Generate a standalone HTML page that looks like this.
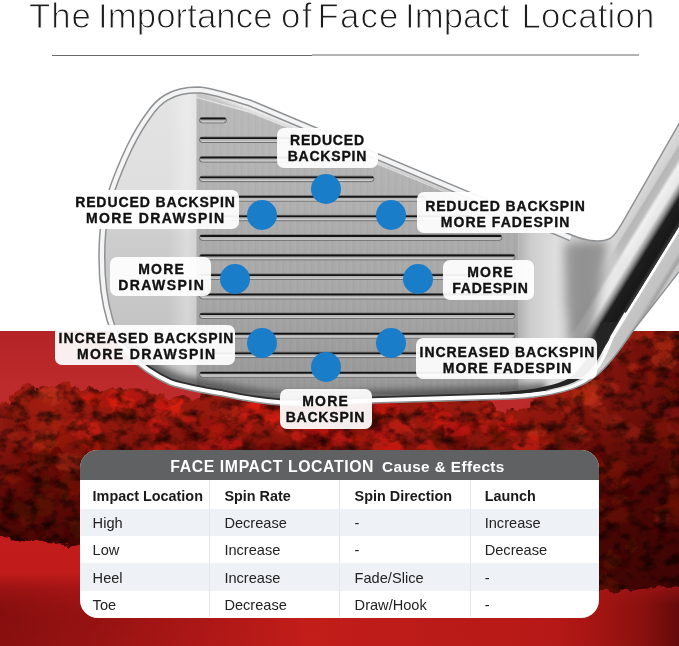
<!DOCTYPE html>
<html lang="en">
<head>
<meta charset="utf-8">
<title>The Importance of Face Impact Location</title>
<style>
html,body{margin:0;padding:0;background:#fff;}
body{width:679px;height:646px;position:relative;overflow:hidden;font-family:"Liberation Sans",sans-serif;}
#art{position:absolute;left:0;top:0;width:679px;height:646px;display:block;}
h1{position:absolute;left:0;top:-5px;width:679px;height:42px;margin:0;font-weight:400;font-size:34.8px;line-height:42px;color:#1c1c1c;white-space:nowrap;-webkit-text-stroke:1px #fff;will-change:transform;}
h1 span{position:absolute;top:0;}
.rule{position:absolute;left:52px;top:55px;width:260px;height:1px;background:#6a6a6a;}
.rule2{position:absolute;left:312px;top:54px;width:326.5px;height:2px;background:#b2b2b2;}
.lab{position:absolute;box-sizing:border-box;background:rgba(255,255,255,0.93);border-radius:7px;}
.lt{position:absolute;width:240px;color:#111;font-weight:700;font-size:14px;line-height:16.3px;letter-spacing:0.8px;text-indent:0.8px;text-align:center;white-space:nowrap;will-change:transform;-webkit-text-stroke:0.35px #111;}
.lt span{display:block;}
.dot{position:absolute;width:30px;height:30px;border-radius:50%;background:#1a7dc9;}
#tbl{position:absolute;left:80px;top:450px;width:519px;height:167.6px;will-change:transform;border-radius:18px;overflow:hidden;background:#fff;}
#tbl .hd{position:absolute;left:0;top:0;width:100%;height:30px;background:#606163;color:#fff;font-weight:700;}
#tbl .hd b{position:absolute;top:8px;left:90.3px;font-size:15.8px;line-height:18px;letter-spacing:0.61px;white-space:nowrap;}
#tbl .hd i{position:absolute;top:8.2px;left:302px;font-style:normal;font-size:15.3px;line-height:18px;letter-spacing:0.42px;white-space:nowrap;}
.row{position:absolute;left:0;width:100%;height:27.4px;}
.row.alt{background:#eef2f7;}
.row span{position:absolute;top:1.5px;line-height:27.4px;font-size:14.6px;color:#222;white-space:nowrap;}
.row.th span{font-weight:700;color:#1a1a1a;font-size:14.4px;top:3px;}
.c1{left:12.6px;}.c2{left:144.4px;}.c3{left:274.6px;}.c4{left:404.7px;}
.vl{position:absolute;top:30px;width:1px;height:137px;background:#e3e6ea;}
</style>
</head>
<body>
<svg id="art" width="679" height="646" viewBox="0 0 679 646">
  <defs>
    <linearGradient id="sky" gradientUnits="userSpaceOnUse" x1="0" y1="331" x2="0" y2="560">
      <stop offset="0" stop-color="#b42326"/>
      <stop offset="0.25" stop-color="#bd2b2c"/>
      <stop offset="1" stop-color="#b82020"/>
    </linearGradient>
    <linearGradient id="toev" gradientUnits="userSpaceOnUse" x1="0" y1="90" x2="0" y2="400">
      <stop offset="0" stop-color="#e3e3e4"/>
      <stop offset="0.33" stop-color="#dfdfe0"/>
      <stop offset="0.47" stop-color="#cdcdce"/>
      <stop offset="0.75" stop-color="#c4c4c5"/>
      <stop offset="1" stop-color="#b4b4b4"/>
    </linearGradient>
    <linearGradient id="toeh" gradientUnits="userSpaceOnUse" x1="99" y1="0" x2="197" y2="0">
      <stop offset="0" stop-color="#fff" stop-opacity="0"/>
      <stop offset="0.7" stop-color="#fff" stop-opacity="0"/>
      <stop offset="0.9" stop-color="#fff" stop-opacity="0.3"/>
      <stop offset="1" stop-color="#fff" stop-opacity="0.1"/>
    </linearGradient>
    <linearGradient id="facev" gradientUnits="userSpaceOnUse" x1="0" y1="96" x2="0" y2="396">
      <stop offset="0" stop-color="#fff" stop-opacity="0.16"/>
      <stop offset="0.35" stop-color="#fff" stop-opacity="0.04"/>
      <stop offset="0.6" stop-color="#000" stop-opacity="0.02"/>
      <stop offset="1" stop-color="#000" stop-opacity="0.13"/>
    </linearGradient>
    <linearGradient id="solefade" x1="0" y1="0" x2="0" y2="1">
      <stop offset="0" stop-color="#6a6a6a" stop-opacity="0"/>
      <stop offset="0.45" stop-color="#666" stop-opacity="0.3"/>
      <stop offset="0.8" stop-color="#555" stop-opacity="0.7"/>
      <stop offset="1" stop-color="#444" stop-opacity="0.85"/>
    </linearGradient>
    <pattern id="brush" width="7" height="10" patternUnits="userSpaceOnUse">
      <rect x="0" y="0" width="2" height="10" fill="#fff" opacity="0.10"/>
      <rect x="3" y="0" width="1" height="10" fill="#000" opacity="0.05"/>
      <rect x="5" y="0" width="1.5" height="10" fill="#fff" opacity="0.06"/>
    </pattern>
    <linearGradient id="gmg" gradientUnits="userSpaceOnUse" x1="0" y1="575" x2="0" y2="605">
      <stop offset="0" stop-color="#000"/><stop offset="1" stop-color="#fff"/>
    </linearGradient>
    <mask id="gmask" maskUnits="userSpaceOnUse" x="0" y="560" width="679" height="90"><rect x="0" y="560" width="679" height="90" fill="url(#gmg)"/></mask>
    <filter id="sblur" x="-5%" y="-20%" width="110%" height="140%"><feGaussianBlur stdDeviation="3"/></filter>
    <filter id="mblur2" x="-50%" y="-20%" width="200%" height="140%"><feGaussianBlur stdDeviation="5"/></filter>
    <filter id="mblur" x="-20%" y="-20%" width="140%" height="140%"><feGaussianBlur stdDeviation="7"/></filter>
    <mask id="hoselmask" maskUnits="userSpaceOnUse" x="480" y="40" width="330" height="420">
      <polygon points="693,57 791,118 633,373 571,335 618.5,258 593,219" fill="#fff" filter="url(#mblur)"/>
    </mask>
    <linearGradient id="heel" gradientUnits="userSpaceOnUse" x1="519" y1="0" x2="640" y2="0">
      <stop offset="0" stop-color="#b4b4b4"/>
      <stop offset="0.1" stop-color="#cdcdcd"/>
      <stop offset="0.3" stop-color="#dedede"/>
      <stop offset="0.55" stop-color="#c6c6c6"/>
      <stop offset="0.8" stop-color="#d8d8d8"/>
      <stop offset="1" stop-color="#b0b0b0"/>
    </linearGradient>
    <linearGradient id="hosel" gradientUnits="userSpaceOnUse" x1="617" y1="230" x2="677.4" y2="267.3">
      <stop offset="0" stop-color="#d8d8d8"/>
      <stop offset="0.10" stop-color="#d0d0d0"/>
      <stop offset="0.13" stop-color="#b6b6b6"/>
      <stop offset="0.21" stop-color="#bcbcbc"/>
      <stop offset="0.26" stop-color="#f0f0f0"/>
      <stop offset="0.38" stop-color="#e6e6e6"/>
      <stop offset="0.45" stop-color="#8c8c8c"/>
      <stop offset="0.51" stop-color="#1e1e1e"/>
      <stop offset="0.66" stop-color="#181818"/>
      <stop offset="0.715" stop-color="#3a3a3a"/>
      <stop offset="0.725" stop-color="#ffffff"/>
      <stop offset="0.75" stop-color="#ffffff"/>
      <stop offset="0.765" stop-color="#c6c6c6"/>
      <stop offset="0.9" stop-color="#c2c2c2"/>
      <stop offset="0.96" stop-color="#a2a2a2"/>
      <stop offset="1" stop-color="#c8c8c8"/>
    </linearGradient>
    <linearGradient id="topband" gradientUnits="userSpaceOnUse" x1="350" y1="142" x2="346" y2="152">
      <stop offset="0" stop-color="#f6f6f6"/>
      <stop offset="0.55" stop-color="#ececec"/>
      <stop offset="1" stop-color="#bdbdbd"/>
    </linearGradient>
    <linearGradient id="ground" x1="0" y1="0" x2="0" y2="1">
      <stop offset="0" stop-color="#c41c1c"/>
      <stop offset="0.42" stop-color="#c11b1b"/>
      <stop offset="0.56" stop-color="#a41515"/>
      <stop offset="0.8" stop-color="#961212"/>
      <stop offset="1" stop-color="#9a1414"/>
    </linearGradient>
    <linearGradient id="groundx" x1="0" y1="0" x2="1" y2="0">
      <stop offset="0" stop-color="#7a0c0c" stop-opacity="0.55"/>
      <stop offset="0.1" stop-color="#7a0c0c" stop-opacity="0.15"/>
      <stop offset="0.2" stop-color="#c01c1a" stop-opacity="0.2"/>
      <stop offset="0.45" stop-color="#c41e1a" stop-opacity="0.95"/>
      <stop offset="0.82" stop-color="#b81a18" stop-opacity="0.9"/>
      <stop offset="0.89" stop-color="#a21512" stop-opacity="0.9"/>
      <stop offset="0.95" stop-color="#86100e" stop-opacity="0.9"/>
      <stop offset="1" stop-color="#600a0a" stop-opacity="0.95"/>
    </linearGradient>
    <linearGradient id="mass" gradientUnits="userSpaceOnUse" x1="0" y1="380" x2="0" y2="590">
      <stop offset="0" stop-color="#a51d11"/>
      <stop offset="0.25" stop-color="#8d160c"/>
      <stop offset="0.5" stop-color="#630b07"/>
      <stop offset="0.75" stop-color="#4c0704"/>
      <stop offset="1" stop-color="#440603"/>
    </linearGradient>
    <linearGradient id="massx" gradientUnits="userSpaceOnUse" x1="520" y1="0" x2="679" y2="0">
      <stop offset="0" stop-color="#3a0303" stop-opacity="0"/>
      <stop offset="0.5" stop-color="#3a0303" stop-opacity="0.3"/>
      <stop offset="1" stop-color="#3a0303" stop-opacity="0.6"/>
    </linearGradient>
    <filter id="soft" x="-5%" y="-5%" width="110%" height="110%"><feGaussianBlur stdDeviation="1.6"/></filter>
    <filter id="rough" x="0" y="0" width="100%" height="100%" color-interpolation-filters="sRGB">
      <feTurbulence type="fractalNoise" baseFrequency="0.09" numOctaves="3" seed="4" result="n"/>
      <feDisplacementMap in="SourceGraphic" in2="n" scale="12" xChannelSelector="R" yChannelSelector="G" result="d"/>
      <feTurbulence type="fractalNoise" baseFrequency="0.07 0.09" numOctaves="4" seed="11" result="n2"/>
      <feColorMatrix in="n2" type="matrix" values="1.7 0 0 0 0.05  1.7 0 0 0 0.05  1.7 0 0 0 0.05  0 0 0 0 1" result="tex"/>
      <feComposite in="tex" in2="d" operator="arithmetic" k1="1" k2="0" k3="0" k4="0"/>
    </filter>
    <clipPath id="massclip"><polygon points="-25,408 0,406 15,398 30,391 50,386 70,387 85,392 95,398 110,394 130,392 150,396 165,402 180,400 195,398 205,394 225,392 262,394 300,394 372,392 440,390 478,392 490,408 505,420 520,410 540,395 560,383 580,375 600,360 620,340 632,320 705,320 705,585 679,586 599,592 300,560 80,546 0,536 -25,535"/><circle cx="-10" cy="410" r="9"/><circle cx="4" cy="408" r="7"/><circle cx="15" cy="402" r="7"/><circle cx="24" cy="397" r="10"/><circle cx="34" cy="397" r="10"/><circle cx="44" cy="393" r="8"/><circle cx="60" cy="392" r="10"/><circle cx="75" cy="394" r="7"/><circle cx="86" cy="396" r="8"/><circle cx="98" cy="403" r="12"/><circle cx="111" cy="399" r="11"/><circle cx="123" cy="395" r="7"/><circle cx="134" cy="399" r="11"/><circle cx="145" cy="401" r="11"/><circle cx="156" cy="406" r="12"/><circle cx="167" cy="408" r="10"/><circle cx="182" cy="405" r="11"/><circle cx="488" cy="408" r="8"/><circle cx="498" cy="419" r="8"/><circle cx="512" cy="418" r="9"/></clipPath>
    <clipPath id="redclip"><rect x="0" y="331" width="679" height="315"/></clipPath>
    <clipPath id="clubclip"><path d="M198,87 C215,88 232,95 250,100 L569,234 C580,239 598,244 609,239 C615,236 617,231 621,225 L700,87 L700,245 L632,332 C620,350 608,366 596,376 C580,390 550,397 510,399 L372,403 C340,405 310,406 280,405 C258,403 240,400 222,396 C203,393 186,390 170,385 C152,377 138,367 127,355 C116,343 110,332 107,320 C101,300 99,280 99,257 C99,240 100,228 102,217 C104,205 106,198 109,190 C113,178 119,163 127,146 C134,132 140,122 146,114 C152,105 158,99 165,95 C175,89 186,87 198,87 Z"/></clipPath>
  </defs>

  <!-- red landscape -->
  <rect x="0" y="331" width="679" height="315" fill="url(#sky)"/>
  <!-- ground -->
  <rect x="0" y="520" width="679" height="126" fill="url(#ground)"/>
  <rect x="0" y="570" width="679" height="76" fill="url(#groundx)" mask="url(#gmask)"/>
  <g id="trees" filter="url(#rough)" clip-path="url(#redclip)">
    <g fill="url(#mass)"><polygon points="-25,408 0,406 15,398 30,391 50,386 70,387 85,392 95,398 110,394 130,392 150,396 165,402 180,400 195,398 205,394 225,392 262,394 300,394 372,392 440,390 478,392 490,408 505,420 520,410 540,395 560,383 580,375 600,360 620,340 632,320 705,320 705,585 679,586 599,592 300,560 80,546 0,536 -25,535"/><circle cx="-10" cy="410" r="9"/><circle cx="4" cy="408" r="7"/><circle cx="15" cy="402" r="7"/><circle cx="24" cy="397" r="10"/><circle cx="34" cy="397" r="10"/><circle cx="44" cy="393" r="8"/><circle cx="60" cy="392" r="10"/><circle cx="75" cy="394" r="7"/><circle cx="86" cy="396" r="8"/><circle cx="98" cy="403" r="12"/><circle cx="111" cy="399" r="11"/><circle cx="123" cy="395" r="7"/><circle cx="134" cy="399" r="11"/><circle cx="145" cy="401" r="11"/><circle cx="156" cy="406" r="12"/><circle cx="167" cy="408" r="10"/><circle cx="182" cy="405" r="11"/><circle cx="488" cy="408" r="8"/><circle cx="498" cy="419" r="8"/><circle cx="512" cy="418" r="9"/></g>
    <polygon points="-25,408 0,406 15,398 30,391 50,386 70,387 85,392 95,398 110,394 130,392 150,396 165,402 180,400 195,398 205,394 225,392 262,394 300,394 372,392 440,390 478,392 490,408 505,420 520,410 540,395 560,383 580,375 600,360 620,340 632,320 705,320 705,585 679,586 599,592 300,560 80,546 0,536 -25,535" fill="url(#massx)"/>
    <g clip-path="url(#massclip)"><g filter="url(#soft)">
    <ellipse cx="661" cy="529" rx="8" ry="10" fill="#4c0a06" fill-opacity="0.56"/>
    <ellipse cx="603" cy="584" rx="9" ry="11" fill="#620e08" fill-opacity="0.53"/>
    <ellipse cx="269" cy="454" rx="11" ry="14" fill="#620e08" fill-opacity="0.42"/>
    <ellipse cx="226" cy="423" rx="4" ry="5" fill="#560c07" fill-opacity="0.59"/>
    <ellipse cx="658" cy="514" rx="4" ry="6" fill="#560c07" fill-opacity="0.63"/>
    <ellipse cx="90" cy="460" rx="6" ry="8" fill="#400805" fill-opacity="0.56"/>
    <ellipse cx="67" cy="487" rx="11" ry="14" fill="#620e08" fill-opacity="0.57"/>
    <ellipse cx="46" cy="428" rx="6" ry="8" fill="#400805" fill-opacity="0.57"/>
    <ellipse cx="633" cy="544" rx="6" ry="8" fill="#4c0a06" fill-opacity="0.66"/>
    <ellipse cx="219" cy="457" rx="10" ry="13" fill="#560c07" fill-opacity="0.71"/>
    <ellipse cx="237" cy="417" rx="4" ry="5" fill="#400805" fill-opacity="0.56"/>
    <ellipse cx="676" cy="376" rx="5" ry="6" fill="#620e08" fill-opacity="0.44"/>
    <ellipse cx="623" cy="562" rx="7" ry="10" fill="#400805" fill-opacity="0.71"/>
    <ellipse cx="45" cy="506" rx="10" ry="13" fill="#560c07" fill-opacity="0.57"/>
    <ellipse cx="674" cy="465" rx="7" ry="9" fill="#4c0a06" fill-opacity="0.68"/>
    <ellipse cx="106" cy="440" rx="5" ry="7" fill="#620e08" fill-opacity="0.71"/>
    <ellipse cx="89" cy="529" rx="11" ry="14" fill="#400805" fill-opacity="0.42"/>
    <ellipse cx="374" cy="415" rx="10" ry="12" fill="#4c0a06" fill-opacity="0.59"/>
    <ellipse cx="647" cy="475" rx="10" ry="13" fill="#560c07" fill-opacity="0.36"/>
    <ellipse cx="28" cy="514" rx="10" ry="13" fill="#620e08" fill-opacity="0.72"/>
    <ellipse cx="608" cy="419" rx="5" ry="7" fill="#4c0a06" fill-opacity="0.74"/>
    <ellipse cx="535" cy="457" rx="5" ry="6" fill="#4c0a06" fill-opacity="0.60"/>
    <ellipse cx="60" cy="495" rx="6" ry="7" fill="#400805" fill-opacity="0.37"/>
    <ellipse cx="54" cy="481" rx="4" ry="5" fill="#4c0a06" fill-opacity="0.55"/>
    <ellipse cx="653" cy="432" rx="8" ry="10" fill="#560c07" fill-opacity="0.73"/>
    <ellipse cx="82" cy="436" rx="7" ry="9" fill="#4c0a06" fill-opacity="0.65"/>
    <ellipse cx="289" cy="458" rx="6" ry="8" fill="#4c0a06" fill-opacity="0.75"/>
    <ellipse cx="95" cy="518" rx="9" ry="11" fill="#560c07" fill-opacity="0.46"/>
    <ellipse cx="82" cy="487" rx="9" ry="12" fill="#4c0a06" fill-opacity="0.53"/>
    <ellipse cx="575" cy="445" rx="7" ry="9" fill="#620e08" fill-opacity="0.50"/>
    <ellipse cx="497" cy="435" rx="8" ry="10" fill="#620e08" fill-opacity="0.67"/>
    <ellipse cx="65" cy="536" rx="6" ry="7" fill="#4c0a06" fill-opacity="0.39"/>
    <ellipse cx="552" cy="457" rx="10" ry="13" fill="#400805" fill-opacity="0.77"/>
    <ellipse cx="44" cy="527" rx="4" ry="6" fill="#4c0a06" fill-opacity="0.55"/>
    <ellipse cx="642" cy="434" rx="5" ry="6" fill="#560c07" fill-opacity="0.77"/>
    <ellipse cx="672" cy="432" rx="5" ry="7" fill="#400805" fill-opacity="0.63"/>
    <ellipse cx="362" cy="458" rx="7" ry="9" fill="#560c07" fill-opacity="0.47"/>
    <ellipse cx="11" cy="420" rx="8" ry="10" fill="#560c07" fill-opacity="0.58"/>
    <ellipse cx="615" cy="586" rx="6" ry="8" fill="#560c07" fill-opacity="0.79"/>
    <ellipse cx="24" cy="438" rx="4" ry="6" fill="#400805" fill-opacity="0.54"/>
    <ellipse cx="24" cy="506" rx="7" ry="9" fill="#400805" fill-opacity="0.62"/>
    <ellipse cx="476" cy="424" rx="5" ry="7" fill="#400805" fill-opacity="0.55"/>
    <ellipse cx="675" cy="499" rx="6" ry="7" fill="#400805" fill-opacity="0.45"/>
    <ellipse cx="44" cy="458" rx="9" ry="11" fill="#560c07" fill-opacity="0.58"/>
    <ellipse cx="-11" cy="465" rx="5" ry="6" fill="#620e08" fill-opacity="0.61"/>
    <ellipse cx="431" cy="433" rx="11" ry="14" fill="#560c07" fill-opacity="0.65"/>
    <ellipse cx="683" cy="399" rx="9" ry="12" fill="#560c07" fill-opacity="0.37"/>
    <ellipse cx="561" cy="443" rx="8" ry="10" fill="#4c0a06" fill-opacity="0.72"/>
    <ellipse cx="148" cy="420" rx="5" ry="6" fill="#400805" fill-opacity="0.78"/>
    <ellipse cx="21" cy="415" rx="8" ry="10" fill="#560c07" fill-opacity="0.57"/>
    <ellipse cx="-13" cy="518" rx="9" ry="12" fill="#4c0a06" fill-opacity="0.65"/>
    <ellipse cx="32" cy="514" rx="6" ry="7" fill="#4c0a06" fill-opacity="0.73"/>
    <ellipse cx="39" cy="532" rx="6" ry="8" fill="#4c0a06" fill-opacity="0.63"/>
    <ellipse cx="441" cy="431" rx="5" ry="7" fill="#400805" fill-opacity="0.64"/>
    <ellipse cx="80" cy="489" rx="7" ry="10" fill="#4c0a06" fill-opacity="0.66"/>
    <ellipse cx="316" cy="441" rx="10" ry="13" fill="#560c07" fill-opacity="0.49"/>
    <ellipse cx="46" cy="484" rx="6" ry="8" fill="#4c0a06" fill-opacity="0.72"/>
    <ellipse cx="671" cy="477" rx="6" ry="8" fill="#560c07" fill-opacity="0.76"/>
    <ellipse cx="645" cy="374" rx="5" ry="6" fill="#400805" fill-opacity="0.78"/>
    <ellipse cx="79" cy="527" rx="8" ry="10" fill="#4c0a06" fill-opacity="0.67"/>
    <ellipse cx="330" cy="417" rx="4" ry="5" fill="#620e08" fill-opacity="0.66"/>
    <ellipse cx="71" cy="466" rx="6" ry="8" fill="#400805" fill-opacity="0.73"/>
    <ellipse cx="70" cy="537" rx="9" ry="12" fill="#400805" fill-opacity="0.46"/>
    <ellipse cx="31" cy="474" rx="10" ry="13" fill="#4c0a06" fill-opacity="0.51"/>
    <ellipse cx="19" cy="434" rx="10" ry="13" fill="#400805" fill-opacity="0.64"/>
    <ellipse cx="91" cy="544" rx="7" ry="9" fill="#400805" fill-opacity="0.44"/>
    <ellipse cx="612" cy="560" rx="8" ry="11" fill="#560c07" fill-opacity="0.67"/>
    <ellipse cx="20" cy="513" rx="7" ry="9" fill="#560c07" fill-opacity="0.64"/>
    <ellipse cx="188" cy="428" rx="10" ry="14" fill="#560c07" fill-opacity="0.43"/>
    <ellipse cx="459" cy="442" rx="9" ry="11" fill="#4c0a06" fill-opacity="0.44"/>
    <ellipse cx="627" cy="493" rx="6" ry="7" fill="#400805" fill-opacity="0.80"/>
    <ellipse cx="304" cy="445" rx="5" ry="7" fill="#4c0a06" fill-opacity="0.43"/>
    <ellipse cx="128" cy="414" rx="10" ry="13" fill="#620e08" fill-opacity="0.54"/>
    <ellipse cx="225" cy="426" rx="6" ry="8" fill="#400805" fill-opacity="0.41"/>
    <ellipse cx="597" cy="449" rx="6" ry="8" fill="#560c07" fill-opacity="0.52"/>
    <ellipse cx="671" cy="392" rx="7" ry="9" fill="#620e08" fill-opacity="0.79"/>
    <ellipse cx="332" cy="430" rx="11" ry="14" fill="#620e08" fill-opacity="0.79"/>
    <ellipse cx="161" cy="442" rx="5" ry="7" fill="#4c0a06" fill-opacity="0.77"/>
    <ellipse cx="376" cy="421" rx="9" ry="12" fill="#560c07" fill-opacity="0.61"/>
    <ellipse cx="12" cy="511" rx="11" ry="14" fill="#400805" fill-opacity="0.59"/>
    <ellipse cx="56" cy="461" rx="11" ry="14" fill="#560c07" fill-opacity="0.52"/>
    <ellipse cx="-8" cy="469" rx="7" ry="9" fill="#400805" fill-opacity="0.64"/>
    <ellipse cx="612" cy="497" rx="6" ry="7" fill="#560c07" fill-opacity="0.36"/>
    <ellipse cx="24" cy="448" rx="10" ry="13" fill="#620e08" fill-opacity="0.39"/>
    <ellipse cx="242" cy="420" rx="7" ry="4" fill="#d21a10" fill-opacity="0.50"/>
    <ellipse cx="673" cy="483" rx="9" ry="5" fill="#be3017" fill-opacity="0.23"/>
    <ellipse cx="427" cy="451" rx="15" ry="9" fill="#d21a10" fill-opacity="0.61"/>
    <ellipse cx="89" cy="420" rx="8" ry="5" fill="#93190d" fill-opacity="0.57"/>
    <ellipse cx="488" cy="416" rx="11" ry="7" fill="#dc2014" fill-opacity="0.76"/>
    <ellipse cx="692" cy="372" rx="8" ry="5" fill="#9d1d0f" fill-opacity="0.57"/>
    <ellipse cx="580" cy="436" rx="7" ry="5" fill="#b52a14" fill-opacity="0.47"/>
    <ellipse cx="662" cy="520" rx="8" ry="5" fill="#be3017" fill-opacity="0.24"/>
    <ellipse cx="292" cy="399" rx="11" ry="7" fill="#c0140c" fill-opacity="0.58"/>
    <ellipse cx="6" cy="427" rx="14" ry="9" fill="#93190d" fill-opacity="0.55"/>
    <ellipse cx="29" cy="401" rx="7" ry="4" fill="#89150b" fill-opacity="0.58"/>
    <ellipse cx="664" cy="360" rx="13" ry="8" fill="#be3017" fill-opacity="0.54"/>
    <ellipse cx="556" cy="394" rx="14" ry="9" fill="#a21f0e" fill-opacity="0.86"/>
    <ellipse cx="259" cy="408" rx="10" ry="6" fill="#c0140c" fill-opacity="0.54"/>
    <ellipse cx="533" cy="437" rx="9" ry="6" fill="#b52a14" fill-opacity="0.58"/>
    <ellipse cx="263" cy="403" rx="10" ry="6" fill="#c0140c" fill-opacity="0.70"/>
    <ellipse cx="611" cy="386" rx="7" ry="4" fill="#a21f0e" fill-opacity="0.78"/>
    <ellipse cx="674" cy="339" rx="11" ry="7" fill="#93190d" fill-opacity="0.76"/>
    <ellipse cx="586" cy="386" rx="14" ry="9" fill="#be3017" fill-opacity="0.62"/>
    <ellipse cx="508" cy="429" rx="9" ry="5" fill="#c8160d" fill-opacity="0.59"/>
    <ellipse cx="628" cy="336" rx="9" ry="5" fill="#aa2310" fill-opacity="0.74"/>
    <ellipse cx="56" cy="420" rx="7" ry="4" fill="#aa2310" fill-opacity="0.68"/>
    <ellipse cx="633" cy="366" rx="8" ry="5" fill="#aa2310" fill-opacity="0.74"/>
    <ellipse cx="303" cy="409" rx="14" ry="8" fill="#93190d" fill-opacity="0.70"/>
    <ellipse cx="488" cy="429" rx="7" ry="4" fill="#d21a10" fill-opacity="0.52"/>
    <ellipse cx="166" cy="450" rx="12" ry="8" fill="#d21a10" fill-opacity="0.58"/>
    <ellipse cx="275" cy="419" rx="12" ry="7" fill="#d21a10" fill-opacity="0.71"/>
    <ellipse cx="374" cy="397" rx="7" ry="5" fill="#c8160d" fill-opacity="0.75"/>
    <ellipse cx="50" cy="395" rx="13" ry="8" fill="#be3017" fill-opacity="0.74"/>
    <ellipse cx="281" cy="399" rx="13" ry="8" fill="#89150b" fill-opacity="0.66"/>
    <ellipse cx="598" cy="413" rx="8" ry="5" fill="#93190d" fill-opacity="0.70"/>
    <ellipse cx="293" cy="402" rx="8" ry="5" fill="#dc2014" fill-opacity="0.67"/>
    <ellipse cx="100" cy="401" rx="12" ry="7" fill="#c0140c" fill-opacity="0.54"/>
    <ellipse cx="426" cy="418" rx="11" ry="7" fill="#dc2014" fill-opacity="0.49"/>
    <ellipse cx="107" cy="400" rx="10" ry="6" fill="#93190d" fill-opacity="0.62"/>
    <ellipse cx="208" cy="447" rx="12" ry="8" fill="#c8160d" fill-opacity="0.52"/>
    <ellipse cx="592" cy="461" rx="8" ry="5" fill="#aa2310" fill-opacity="0.31"/>
    <ellipse cx="650" cy="379" rx="8" ry="5" fill="#93190d" fill-opacity="0.41"/>
    <ellipse cx="12" cy="478" rx="8" ry="5" fill="#9d1d0f" fill-opacity="0.38"/>
    <ellipse cx="537" cy="432" rx="9" ry="5" fill="#be3017" fill-opacity="0.57"/>
    <ellipse cx="296" cy="398" rx="12" ry="7" fill="#c8160d" fill-opacity="0.68"/>
    <ellipse cx="578" cy="429" rx="7" ry="4" fill="#be3017" fill-opacity="0.41"/>
    <ellipse cx="298" cy="435" rx="7" ry="4" fill="#d21a10" fill-opacity="0.67"/>
    <ellipse cx="207" cy="464" rx="7" ry="4" fill="#89150b" fill-opacity="0.44"/>
    <ellipse cx="541" cy="403" rx="12" ry="7" fill="#93190d" fill-opacity="0.56"/>
    <ellipse cx="681" cy="517" rx="15" ry="9" fill="#aa2310" fill-opacity="0.15"/>
    <ellipse cx="87" cy="430" rx="15" ry="9" fill="#dc2014" fill-opacity="0.58"/>
    <ellipse cx="153" cy="421" rx="8" ry="5" fill="#dc2014" fill-opacity="0.67"/>
    <ellipse cx="620" cy="484" rx="8" ry="5" fill="#9d1d0f" fill-opacity="0.38"/>
    <ellipse cx="670" cy="412" rx="13" ry="8" fill="#89150b" fill-opacity="0.61"/>
    <ellipse cx="432" cy="420" rx="14" ry="8" fill="#dc2014" fill-opacity="0.63"/>
    <ellipse cx="299" cy="404" rx="13" ry="8" fill="#dc2014" fill-opacity="0.60"/>
    <ellipse cx="670" cy="510" rx="15" ry="9" fill="#9d1d0f" fill-opacity="0.16"/>
    <ellipse cx="91" cy="447" rx="10" ry="6" fill="#d21a10" fill-opacity="0.38"/>
    <ellipse cx="146" cy="453" rx="7" ry="4" fill="#dc2014" fill-opacity="0.40"/>
    <ellipse cx="356" cy="439" rx="10" ry="6" fill="#c8160d" fill-opacity="0.44"/>
    <ellipse cx="427" cy="431" rx="8" ry="5" fill="#93190d" fill-opacity="0.63"/>
    <ellipse cx="305" cy="399" rx="8" ry="5" fill="#dc2014" fill-opacity="0.66"/>
    <ellipse cx="172" cy="405" rx="12" ry="8" fill="#dc2014" fill-opacity="0.74"/>
    <ellipse cx="395" cy="449" rx="11" ry="7" fill="#c8160d" fill-opacity="0.60"/>
    <ellipse cx="16" cy="435" rx="10" ry="6" fill="#b52a14" fill-opacity="0.66"/>
    <ellipse cx="59" cy="439" rx="12" ry="8" fill="#a21f0e" fill-opacity="0.40"/>
    <ellipse cx="416" cy="435" rx="12" ry="8" fill="#93190d" fill-opacity="0.55"/>
    <ellipse cx="30" cy="443" rx="16" ry="10" fill="#89150b" fill-opacity="0.53"/>
    <ellipse cx="-10" cy="481" rx="13" ry="8" fill="#a21f0e" fill-opacity="0.25"/>
    <ellipse cx="692" cy="439" rx="8" ry="5" fill="#9d1d0f" fill-opacity="0.51"/>
    <ellipse cx="172" cy="406" rx="12" ry="8" fill="#dc2014" fill-opacity="0.62"/>
    <ellipse cx="643" cy="332" rx="11" ry="7" fill="#aa2310" fill-opacity="0.81"/>
    <ellipse cx="129" cy="400" rx="15" ry="9" fill="#c0140c" fill-opacity="0.61"/>
    <ellipse cx="389" cy="412" rx="8" ry="5" fill="#d21a10" fill-opacity="0.66"/>
    <ellipse cx="107" cy="399" rx="8" ry="5" fill="#c8160d" fill-opacity="0.64"/>
    <ellipse cx="86" cy="397" rx="7" ry="4" fill="#d21a10" fill-opacity="0.78"/>
    <ellipse cx="507" cy="423" rx="12" ry="7" fill="#d21a10" fill-opacity="0.85"/>
    <ellipse cx="257" cy="408" rx="8" ry="5" fill="#d21a10" fill-opacity="0.78"/>
    <ellipse cx="433" cy="409" rx="7" ry="5" fill="#c8160d" fill-opacity="0.57"/>
    <ellipse cx="224" cy="407" rx="10" ry="6" fill="#93190d" fill-opacity="0.73"/>
    <ellipse cx="246" cy="413" rx="15" ry="9" fill="#dc2014" fill-opacity="0.67"/>
    <ellipse cx="7" cy="427" rx="10" ry="6" fill="#89150b" fill-opacity="0.58"/>
    <ellipse cx="19" cy="438" rx="13" ry="8" fill="#9d1d0f" fill-opacity="0.60"/>
    <ellipse cx="106" cy="399" rx="8" ry="5" fill="#93190d" fill-opacity="0.50"/>
    <ellipse cx="333" cy="433" rx="14" ry="8" fill="#c0140c" fill-opacity="0.58"/>
    <ellipse cx="664" cy="425" rx="8" ry="5" fill="#9d1d0f" fill-opacity="0.37"/>
    <ellipse cx="529" cy="445" rx="16" ry="10" fill="#d21a10" fill-opacity="0.59"/>
    <ellipse cx="237" cy="420" rx="10" ry="6" fill="#93190d" fill-opacity="0.57"/>
    <ellipse cx="443" cy="418" rx="9" ry="6" fill="#c8160d" fill-opacity="0.57"/>
    <ellipse cx="612" cy="420" rx="11" ry="7" fill="#9d1d0f" fill-opacity="0.55"/>
    <ellipse cx="232" cy="413" rx="8" ry="5" fill="#9d1d0f" fill-opacity="0.65"/>
    <ellipse cx="214" cy="427" rx="13" ry="8" fill="#c8160d" fill-opacity="0.45"/>
    <ellipse cx="154" cy="407" rx="9" ry="6" fill="#c8160d" fill-opacity="0.76"/>
    <ellipse cx="676" cy="430" rx="10" ry="6" fill="#aa2310" fill-opacity="0.37"/>
    <ellipse cx="662" cy="344" rx="12" ry="8" fill="#aa2310" fill-opacity="0.83"/>
    <ellipse cx="549" cy="444" rx="8" ry="5" fill="#93190d" fill-opacity="0.46"/>
    <ellipse cx="613" cy="352" rx="14" ry="9" fill="#aa2310" fill-opacity="0.70"/>
    <ellipse cx="433" cy="429" rx="8" ry="5" fill="#c0140c" fill-opacity="0.41"/>
    <ellipse cx="482" cy="454" rx="12" ry="8" fill="#9d1d0f" fill-opacity="0.56"/>
    <ellipse cx="609" cy="471" rx="14" ry="9" fill="#9d1d0f" fill-opacity="0.29"/>
    <ellipse cx="292" cy="409" rx="13" ry="8" fill="#93190d" fill-opacity="0.76"/>
    <ellipse cx="162" cy="429" rx="11" ry="7" fill="#c0140c" fill-opacity="0.59"/>
    <ellipse cx="619" cy="345" rx="14" ry="9" fill="#93190d" fill-opacity="0.51"/>
    <ellipse cx="370" cy="401" rx="14" ry="8" fill="#9d1d0f" fill-opacity="0.62"/>
    <ellipse cx="586" cy="396" rx="11" ry="7" fill="#be3017" fill-opacity="0.64"/>
    <ellipse cx="134" cy="456" rx="10" ry="6" fill="#93190d" fill-opacity="0.49"/>
    <ellipse cx="420" cy="456" rx="9" ry="5" fill="#d21a10" fill-opacity="0.34"/>
    <ellipse cx="282" cy="424" rx="13" ry="8" fill="#dc2014" fill-opacity="0.46"/>
    <ellipse cx="200" cy="423" rx="15" ry="9" fill="#89150b" fill-opacity="0.59"/>
    <ellipse cx="34" cy="469" rx="8" ry="5" fill="#9d1d0f" fill-opacity="0.30"/>
    <ellipse cx="668" cy="439" rx="14" ry="9" fill="#89150b" fill-opacity="0.52"/>
    <ellipse cx="148" cy="461" rx="13" ry="8" fill="#9d1d0f" fill-opacity="0.35"/>
    <ellipse cx="-13" cy="464" rx="9" ry="6" fill="#be3017" fill-opacity="0.37"/>
    <ellipse cx="329" cy="452" rx="7" ry="4" fill="#93190d" fill-opacity="0.59"/>
    <ellipse cx="591" cy="505" rx="15" ry="9" fill="#93190d" fill-opacity="0.29"/>
    <ellipse cx="230" cy="443" rx="12" ry="8" fill="#d21a10" fill-opacity="0.55"/>
    <ellipse cx="162" cy="407" rx="8" ry="5" fill="#c0140c" fill-opacity="0.63"/>
    <ellipse cx="93" cy="494" rx="14" ry="8" fill="#d21a10" fill-opacity="0.29"/>
    <ellipse cx="619" cy="498" rx="8" ry="5" fill="#9d1d0f" fill-opacity="0.21"/>
    <ellipse cx="580" cy="389" rx="8" ry="5" fill="#aa2310" fill-opacity="0.66"/>
    <ellipse cx="380" cy="432" rx="15" ry="9" fill="#c8160d" fill-opacity="0.56"/>
    <ellipse cx="-10" cy="480" rx="11" ry="7" fill="#9d1d0f" fill-opacity="0.28"/>
    <ellipse cx="315" cy="425" rx="16" ry="10" fill="#c8160d" fill-opacity="0.63"/>
    <ellipse cx="436" cy="394" rx="12" ry="7" fill="#dc2014" fill-opacity="0.82"/>
    <ellipse cx="52" cy="422" rx="13" ry="8" fill="#aa2310" fill-opacity="0.63"/>
    <ellipse cx="428" cy="414" rx="14" ry="9" fill="#c0140c" fill-opacity="0.72"/>
    <ellipse cx="186" cy="420" rx="9" ry="5" fill="#dc2014" fill-opacity="0.55"/>
    <ellipse cx="572" cy="448" rx="9" ry="6" fill="#93190d" fill-opacity="0.53"/>
    <ellipse cx="546" cy="428" rx="9" ry="6" fill="#9d1d0f" fill-opacity="0.44"/>
    <ellipse cx="692" cy="419" rx="10" ry="6" fill="#89150b" fill-opacity="0.40"/>
    <ellipse cx="-11" cy="416" rx="15" ry="9" fill="#9d1d0f" fill-opacity="0.50"/>
    <ellipse cx="340" cy="440" rx="10" ry="6" fill="#d21a10" fill-opacity="0.44"/>
    <ellipse cx="458" cy="429" rx="13" ry="8" fill="#c8160d" fill-opacity="0.69"/>
    <ellipse cx="284" cy="400" rx="15" ry="9" fill="#c8160d" fill-opacity="0.80"/>
    <ellipse cx="384" cy="407" rx="9" ry="6" fill="#dc2014" fill-opacity="0.47"/>
    <ellipse cx="387" cy="446" rx="15" ry="9" fill="#d21a10" fill-opacity="0.60"/>
    <ellipse cx="272" cy="399" rx="13" ry="8" fill="#c8160d" fill-opacity="0.69"/>
    <ellipse cx="277" cy="400" rx="12" ry="8" fill="#c8160d" fill-opacity="0.74"/>
    <ellipse cx="288" cy="398" rx="13" ry="8" fill="#93190d" fill-opacity="0.59"/>
    <ellipse cx="71" cy="422" rx="9" ry="6" fill="#89150b" fill-opacity="0.64"/>
    <ellipse cx="118" cy="398" rx="14" ry="8" fill="#c8160d" fill-opacity="0.79"/>
    <ellipse cx="45" cy="441" rx="13" ry="8" fill="#be3017" fill-opacity="0.58"/>
    <ellipse cx="22" cy="399" rx="7" ry="4" fill="#9d1d0f" fill-opacity="0.83"/>
    <ellipse cx="41" cy="406" rx="13" ry="8" fill="#a21f0e" fill-opacity="0.68"/>
    <ellipse cx="501" cy="453" rx="8" ry="5" fill="#93190d" fill-opacity="0.52"/>
    <ellipse cx="442" cy="455" rx="10" ry="6" fill="#c0140c" fill-opacity="0.59"/>
    <ellipse cx="541" cy="428" rx="7" ry="4" fill="#9d1d0f" fill-opacity="0.70"/>
    <ellipse cx="500" cy="420" rx="8" ry="5" fill="#9d1d0f" fill-opacity="0.67"/>
    <ellipse cx="615" cy="464" rx="12" ry="7" fill="#89150b" fill-opacity="0.33"/>
    <ellipse cx="-14" cy="420" rx="10" ry="6" fill="#93190d" fill-opacity="0.57"/>
    <ellipse cx="85" cy="490" rx="16" ry="10" fill="#c0140c" fill-opacity="0.25"/>
    <ellipse cx="45" cy="431" rx="14" ry="8" fill="#aa2310" fill-opacity="0.46"/>
    <ellipse cx="26" cy="417" rx="13" ry="8" fill="#9d1d0f" fill-opacity="0.69"/>
    <ellipse cx="546" cy="401" rx="14" ry="9" fill="#93190d" fill-opacity="0.64"/>
    <ellipse cx="354" cy="408" rx="14" ry="9" fill="#c8160d" fill-opacity="0.54"/>
    <ellipse cx="121" cy="402" rx="13" ry="8" fill="#dc2014" fill-opacity="0.64"/>
    <ellipse cx="352" cy="401" rx="7" ry="4" fill="#89150b" fill-opacity="0.83"/>
    <ellipse cx="249" cy="428" rx="7" ry="4" fill="#d21a10" fill-opacity="0.52"/>
    <ellipse cx="353" cy="397" rx="7" ry="4" fill="#9d1d0f" fill-opacity="0.69"/>
    <ellipse cx="387" cy="408" rx="14" ry="8" fill="#c0140c" fill-opacity="0.75"/>
    <ellipse cx="566" cy="411" rx="7" ry="4" fill="#aa2310" fill-opacity="0.57"/>
    <ellipse cx="5" cy="408" rx="10" ry="6" fill="#89150b" fill-opacity="0.88"/>
    <ellipse cx="630" cy="432" rx="10" ry="6" fill="#b52a14" fill-opacity="0.37"/>
    <ellipse cx="385" cy="456" rx="15" ry="9" fill="#c0140c" fill-opacity="0.38"/>
    <ellipse cx="587" cy="399" rx="13" ry="8" fill="#be3017" fill-opacity="0.78"/>
    <ellipse cx="27" cy="434" rx="7" ry="4" fill="#89150b" fill-opacity="0.60"/>
    <ellipse cx="684" cy="341" rx="13" ry="8" fill="#9d1d0f" fill-opacity="0.75"/>
    <ellipse cx="403" cy="426" rx="12" ry="8" fill="#dc2014" fill-opacity="0.50"/>
    <ellipse cx="73" cy="424" rx="8" ry="5" fill="#aa2310" fill-opacity="0.69"/>
    <ellipse cx="618" cy="516" rx="14" ry="8" fill="#aa2310" fill-opacity="0.18"/>
    <ellipse cx="424" cy="418" rx="13" ry="8" fill="#93190d" fill-opacity="0.76"/>
    <ellipse cx="258" cy="398" rx="7" ry="4" fill="#89150b" fill-opacity="0.83"/>
    <ellipse cx="324" cy="452" rx="8" ry="5" fill="#d21a10" fill-opacity="0.39"/>
    <ellipse cx="296" cy="402" rx="10" ry="6" fill="#d21a10" fill-opacity="0.59"/>
    <ellipse cx="580" cy="395" rx="11" ry="7" fill="#a21f0e" fill-opacity="0.51"/>
    <ellipse cx="679" cy="501" rx="13" ry="8" fill="#a21f0e" fill-opacity="0.29"/>
    <ellipse cx="70" cy="462" rx="15" ry="9" fill="#be3017" fill-opacity="0.49"/>
    </g></g>
  </g>

  <!-- club -->
  <g id="club">
    <path d="M198,87 C215,88 232,95 250,100 L569,234 C580,239 598,244 609,239 C615,236 617,231 621,225 L700,87 L700,245 L632,332 C620,350 608,366 596,376 C580,390 550,397 510,399 L372,403 C340,405 310,406 280,405 C258,403 240,400 222,396 C203,393 186,390 170,385 C152,377 138,367 127,355 C116,343 110,332 107,320 C101,300 99,280 99,257 C99,240 100,228 102,217 C104,205 106,198 109,190 C113,178 119,163 127,146 C134,132 140,122 146,114 C152,105 158,99 165,95 C175,89 186,87 198,87 Z" fill="#dcdcdd"/>
    <g clip-path="url(#clubclip)">
      <!-- toe -->
      <rect x="90" y="80" width="108" height="330" fill="url(#toev)"/>
      <rect x="90" y="80" width="108" height="330" fill="url(#toeh)"/>
      <!-- top band -->
      <polygon points="196.5,80 250,92 600,240 600,260 519,223 420,181 250,111 196.5,97" fill="url(#topband)"/>
      <!-- heel -->
      <rect x="518.5" y="180" width="170" height="230" fill="url(#heel)"/>
      <!-- hosel tube -->
      <g mask="url(#hoselmask)">
        <polygon points="530,420 590,262 605,238 679,116 700,80 700,300 679,272 632,332 590,385 560,420" fill="url(#hosel)"/>
      </g>
      <polygon points="565,244 607,241 598,300 590,350 571,350 566,300" fill="#6e6e6e" opacity="0.6" filter="url(#mblur2)"/>
      <!-- face -->
      <polygon points="196.5,98 250,113 420,182 518.5,223 518.5,396 196.5,392" fill="#acacac"/>
      <rect x="196.5" y="90" width="322" height="310" fill="url(#brush)" opacity="0.3"/>
      <rect x="196.5" y="90" width="322" height="310" fill="url(#facev)"/>
      <path d="M116,343 C119,347 123,351 127,355 C138,367 152,377 170,385 C186,390 203,393 222,396 C240,400 258,403 280,405 C310,406 340,405 372,403 L510,399 C523,398.4 536,397 547,395.3" fill="none" stroke="#4a4a4a" stroke-width="26" opacity="0.75" filter="url(#sblur)"/>
      <rect x="199.5" y="117.5" width="27.0" height="5.4" rx="2.7" fill="#b4b4b4" stroke="#5e5e5e" stroke-width="0.8"/>
      <line x1="202.0" y1="121.8" x2="224.0" y2="121.8" stroke="#d0d0d0" stroke-width="1"/>
      <line x1="201.0" y1="118.6" x2="225.0" y2="118.6" stroke="#141414" stroke-width="1.8" stroke-linecap="round"/>
      <rect x="199.5" y="137.1" width="90.5" height="5.4" rx="2.7" fill="#b4b4b4" stroke="#5e5e5e" stroke-width="0.8"/>
      <line x1="202.0" y1="141.4" x2="287.5" y2="141.4" stroke="#d0d0d0" stroke-width="1"/>
      <line x1="201.0" y1="138.2" x2="288.5" y2="138.2" stroke="#141414" stroke-width="1.8" stroke-linecap="round"/>
      <rect x="199.5" y="156.6" width="135.5" height="5.4" rx="2.7" fill="#b4b4b4" stroke="#5e5e5e" stroke-width="0.8"/>
      <line x1="202.0" y1="160.9" x2="332.5" y2="160.9" stroke="#d0d0d0" stroke-width="1"/>
      <line x1="201.0" y1="157.7" x2="333.5" y2="157.7" stroke="#141414" stroke-width="1.8" stroke-linecap="round"/>
      <rect x="199.5" y="176.2" width="174.5" height="5.4" rx="2.7" fill="#b4b4b4" stroke="#5e5e5e" stroke-width="0.8"/>
      <line x1="202.0" y1="180.5" x2="371.5" y2="180.5" stroke="#d0d0d0" stroke-width="1"/>
      <line x1="201.0" y1="177.3" x2="372.5" y2="177.3" stroke="#141414" stroke-width="1.8" stroke-linecap="round"/>
      <rect x="199.5" y="195.7" width="225.5" height="5.4" rx="2.7" fill="#b4b4b4" stroke="#5e5e5e" stroke-width="0.8"/>
      <line x1="202.0" y1="200.0" x2="422.5" y2="200.0" stroke="#d0d0d0" stroke-width="1"/>
      <line x1="201.0" y1="196.8" x2="423.5" y2="196.8" stroke="#141414" stroke-width="1.8" stroke-linecap="round"/>
      <rect x="199.5" y="215.3" width="270.5" height="5.4" rx="2.7" fill="#b4b4b4" stroke="#5e5e5e" stroke-width="0.8"/>
      <line x1="202.0" y1="219.6" x2="467.5" y2="219.6" stroke="#d0d0d0" stroke-width="1"/>
      <line x1="201.0" y1="216.4" x2="468.5" y2="216.4" stroke="#141414" stroke-width="1.8" stroke-linecap="round"/>
      <rect x="199.5" y="234.9" width="302.5" height="5.4" rx="2.7" fill="#b4b4b4" stroke="#5e5e5e" stroke-width="0.8"/>
      <line x1="202.0" y1="239.2" x2="499.5" y2="239.2" stroke="#d0d0d0" stroke-width="1"/>
      <line x1="201.0" y1="236.0" x2="500.5" y2="236.0" stroke="#141414" stroke-width="1.8" stroke-linecap="round"/>
      <rect x="199.5" y="254.4" width="315.5" height="5.4" rx="2.7" fill="#b4b4b4" stroke="#5e5e5e" stroke-width="0.8"/>
      <line x1="202.0" y1="258.7" x2="512.5" y2="258.7" stroke="#d0d0d0" stroke-width="1"/>
      <line x1="201.0" y1="255.5" x2="513.5" y2="255.5" stroke="#141414" stroke-width="1.8" stroke-linecap="round"/>
      <rect x="199.5" y="274.0" width="315.5" height="5.4" rx="2.7" fill="#b4b4b4" stroke="#5e5e5e" stroke-width="0.8"/>
      <line x1="202.0" y1="278.3" x2="512.5" y2="278.3" stroke="#d0d0d0" stroke-width="1"/>
      <line x1="201.0" y1="275.1" x2="513.5" y2="275.1" stroke="#141414" stroke-width="1.8" stroke-linecap="round"/>
      <rect x="199.5" y="293.5" width="315.5" height="5.4" rx="2.7" fill="#b4b4b4" stroke="#5e5e5e" stroke-width="0.8"/>
      <line x1="202.0" y1="297.8" x2="512.5" y2="297.8" stroke="#d0d0d0" stroke-width="1"/>
      <line x1="201.0" y1="294.6" x2="513.5" y2="294.6" stroke="#141414" stroke-width="1.8" stroke-linecap="round"/>
      <rect x="199.5" y="313.1" width="315.5" height="5.4" rx="2.7" fill="#b4b4b4" stroke="#5e5e5e" stroke-width="0.8"/>
      <line x1="202.0" y1="317.4" x2="512.5" y2="317.4" stroke="#d0d0d0" stroke-width="1"/>
      <line x1="201.0" y1="314.2" x2="513.5" y2="314.2" stroke="#141414" stroke-width="1.8" stroke-linecap="round"/>
      <rect x="199.5" y="332.7" width="315.5" height="5.4" rx="2.7" fill="#b4b4b4" stroke="#5e5e5e" stroke-width="0.8"/>
      <line x1="202.0" y1="337.0" x2="512.5" y2="337.0" stroke="#d0d0d0" stroke-width="1"/>
      <line x1="201.0" y1="333.8" x2="513.5" y2="333.8" stroke="#141414" stroke-width="1.8" stroke-linecap="round"/>
      <rect x="199.5" y="352.2" width="315.5" height="5.4" rx="2.7" fill="#b4b4b4" stroke="#5e5e5e" stroke-width="0.8"/>
      <line x1="202.0" y1="356.5" x2="512.5" y2="356.5" stroke="#d0d0d0" stroke-width="1"/>
      <line x1="201.0" y1="353.3" x2="513.5" y2="353.3" stroke="#141414" stroke-width="1.8" stroke-linecap="round"/>
      <rect x="199.5" y="371.8" width="315.5" height="5.4" rx="2.7" fill="#b4b4b4" stroke="#5e5e5e" stroke-width="0.8"/>
      <line x1="202.0" y1="376.1" x2="512.5" y2="376.1" stroke="#d0d0d0" stroke-width="1"/>
      <line x1="201.0" y1="372.9" x2="513.5" y2="372.9" stroke="#141414" stroke-width="1.8" stroke-linecap="round"/>
      <!-- toe edge -->
      <path d="M572,235.3 L250,100 C232,95 215,88 198,87 C186,87 175,89 165,95 C158,99 152,105 146,114 C140,122 134,132 127,146 C119,163 113,178 109,190 C106,198 104,205 102,217 C100,228 99,240 99,257 C99,280 101,300 107,320 C110,332 116,343 127,355" fill="none" stroke="#8e9092" stroke-width="13"/>
      <path d="M572,235.3 L250,100 C232,95 215,88 198,87 C186,87 175,89 165,95 C158,99 152,105 146,114 C140,122 134,132 127,146 C119,163 113,178 109,190 C106,198 104,205 102,217 C100,228 99,240 99,257 C99,280 101,300 107,320 C110,332 116,343 127,355" fill="none" stroke="#f4f4f5" stroke-width="10"/>
      <!-- sole -->
            <path d="M116,343 C119,347 123,351 127,355 C138,367 152,377 170,385 C186,390 203,393 222,396 C240,400 258,403 280,405 C310,406 340,405 372,403 L510,399 C523,398.4 536,397 547,395.3" fill="none" stroke="#2e2e2e" stroke-width="13"/>
      <path d="M116,343 C119,347 123,351 127,355 C138,367 152,377 170,385 C186,390 203,393 222,396 C240,400 258,403 280,405 C310,406 340,405 372,403 L510,399 C523,398.4 536,397 547,395.3" fill="none" stroke="#fdfdfd" stroke-width="9.4"/>
      <path d="M500,394.6 L510,394.2 C540,392.5 565,388 580,379 C594,370 603,352 609,336 L616,322 L601,322 C596,342 587,364 570,378 C555,386 530,390.5 500,392.3 Z" fill="#242424"/>
      <path d="M540,394.2 C560,391.5 573,387.5 584,381 C598,372 606,354 612,337 L626,313" fill="none" stroke="#fbfbfb" stroke-width="3.4"/>
    </g>
    <path d="M198,87 C215,88 232,95 250,100 L569,234 C580,239 598,244 609,239 C615,236 617,231 621,225 L700,87 L700,245 L632,332 C620,350 608,366 596,376 C580,390 550,397 510,399 L372,403 C340,405 310,406 280,405 C258,403 240,400 222,396 C203,393 186,390 170,385 C152,377 138,367 127,355 C116,343 110,332 107,320 C101,300 99,280 99,257 C99,240 100,228 102,217 C104,205 106,198 109,190 C113,178 119,163 127,146 C134,132 140,122 146,114 C152,105 158,99 165,95 C175,89 186,87 198,87 Z" fill="none" stroke="#8f9295" stroke-width="1.5"/>
  </g>
</svg>

<h1><span style="left:29px;letter-spacing:0.9px">The </span><span style="left:98px;letter-spacing:0.05px">Importance </span><span style="left:281px;letter-spacing:1.6px">of </span><span style="left:317.5px;letter-spacing:1.2px">Face </span><span style="left:405px;letter-spacing:0px">Impact </span><span style="left:521.5px;letter-spacing:0.2px">Location</span></h1>
<div class="rule"></div><div class="rule2"></div>

<div class="dot" style="left:311.2px;top:174.4px"></div>
<div class="dot" style="left:246.9px;top:199.9px"></div>
<div class="dot" style="left:376.1px;top:199.9px"></div>
<div class="dot" style="left:220px;top:264px"></div>
<div class="dot" style="left:402.8px;top:263.8px"></div>
<div class="dot" style="left:246.9px;top:328.2px"></div>
<div class="dot" style="left:376.1px;top:328.2px"></div>
<div class="dot" style="left:311.3px;top:352px"></div>

<div class="lab" style="left:277px;top:128px;width:101.2px;height:39.7px"></div>
<div class="lt" style="left:206.6px;top:132.0px"><span>REDUCED</span><span>BACKSPIN</span></div>
<div class="lab" style="left:72px;top:190px;width:167.0px;height:39.3px"></div>
<div class="lt" style="left:34.9px;top:194.0px"><span style="letter-spacing:0.9px;text-indent:0.9px">REDUCED BACKSPIN</span><span style="letter-spacing:1.4px;text-indent:1.4px">MORE DRAWSPIN</span></div>
<div class="lab" style="left:416.8px;top:192.4px;width:169.2px;height:40.6px"></div>
<div class="lt" style="left:384.6px;top:197.6px"><span style="letter-spacing:0.9px;text-indent:0.9px">REDUCED BACKSPIN</span><span style="letter-spacing:1.05px;text-indent:1.05px">MORE FADESPIN</span></div>
<div class="lab" style="left:109.9px;top:256.8px;width:100.8px;height:39.6px"></div>
<div class="lt" style="left:40.7px;top:261.3px"><span style="letter-spacing:1.25px;text-indent:1.25px">MORE</span><span style="letter-spacing:1.45px;text-indent:1.45px">DRAWSPIN</span></div>
<div class="lab" style="left:443px;top:259.6px;width:91.4px;height:40.1px"></div>
<div class="lt" style="left:369.8px;top:264.4px"><span style="letter-spacing:1.25px;text-indent:1.25px">MORE</span><span>FADESPIN</span></div>
<div class="lab" style="left:55.3px;top:325.3px;width:179.7px;height:39.7px"></div>
<div class="lt" style="left:25.6px;top:330.3px"><span style="letter-spacing:0.9px;text-indent:0.9px">INCREASED BACKSPIN</span><span style="letter-spacing:1.4px;text-indent:1.4px">MORE DRAWSPIN</span></div>
<div class="lab" style="left:416.2px;top:338.3px;width:180.8px;height:40.3px"></div>
<div class="lt" style="left:387.0px;top:343.5px"><span style="letter-spacing:0.9px;text-indent:0.9px">INCREASED BACKSPIN</span><span style="letter-spacing:1.05px;text-indent:1.05px">MORE FADESPIN</span></div>
<div class="lab" style="left:280px;top:389px;width:92.4px;height:39.7px"></div>
<div class="lt" style="left:204.7px;top:392.7px"><span style="letter-spacing:1.25px;text-indent:1.25px">MORE</span><span>BACKSPIN</span></div>

<div id="tbl">
  <div class="hd"><b>FACE IMPACT LOCATION</b><i>Cause &amp; Effects</i></div>
  <div class="row th" style="top:30px;height:28.6px"><span class="c1">Impact Location</span><span class="c2">Spin Rate</span><span class="c3">Spin Direction</span><span class="c4">Launch</span></div>
  <div class="row alt" style="top:58.6px"><span class="c1">High</span><span class="c2">Decrease</span><span class="c3">-</span><span class="c4">Increase</span></div>
  <div class="row" style="top:85.95px"><span class="c1">Low</span><span class="c2">Increase</span><span class="c3">-</span><span class="c4">Decrease</span></div>
  <div class="row alt" style="top:113.3px"><span class="c1">Heel</span><span class="c2">Increase</span><span class="c3">Fade/Slice</span><span class="c4">-</span></div>
  <div class="row" style="top:140.65px"><span class="c1">Toe</span><span class="c2">Decrease</span><span class="c3">Draw/Hook</span><span class="c4">-</span></div>
  <div class="vl" style="left:129px"></div>
  <div class="vl" style="left:259px"></div>
  <div class="vl" style="left:390px"></div>
</div>
</body>
</html>
